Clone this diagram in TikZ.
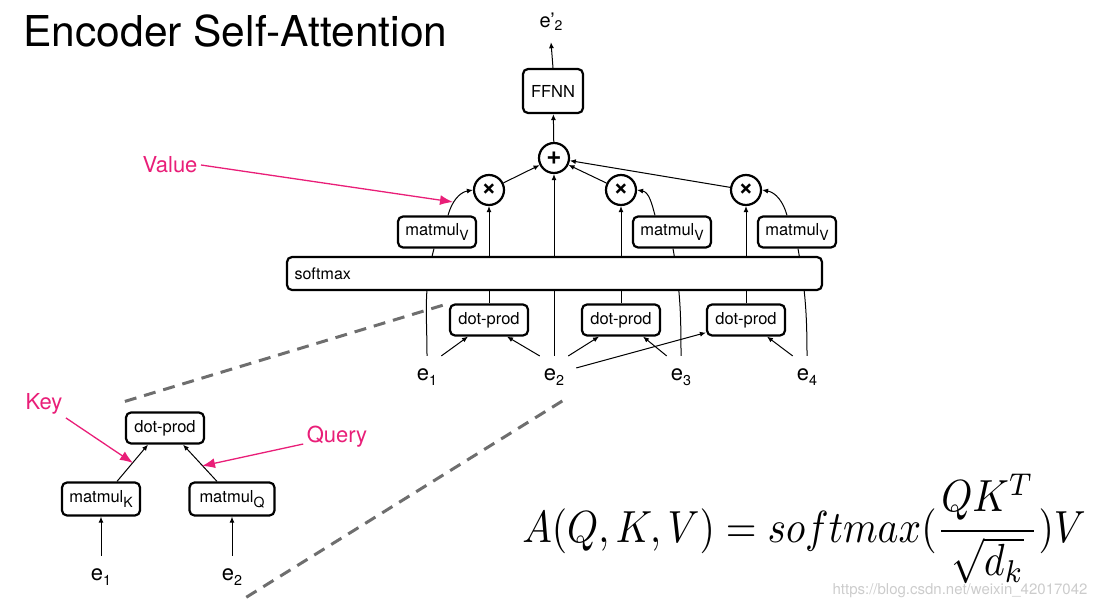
\documentclass[tikz,border=0pt]{standalone}
\usepackage{fontspec}
\setmainfont{TeX Gyre Heros}
\usepackage{graphicx}
\usepackage{tikz}
\usetikzlibrary{arrows.meta}
\pgfdeclarelayer{back}
\pgfsetlayers{back,main}
\definecolor{hintpink}{RGB}{233,30,120}
\definecolor{zoomgray}{RGB}{110,110,110}
\tikzset{opbox/.style={draw, line width=2.2pt, rounded corners=5pt, fill=white, inner sep=0pt,
      minimum width=78pt, minimum height=31pt, font=\fontsize{16.5}{18}\selectfont},
    opcirc/.style={draw, circle, line width=2.2pt, fill=white, minimum size=30pt, inner sep=0pt,
      font=\fontsize{26}{26}\selectfont\bfseries},
    emb/.style={inner xsep=4pt, inner ysep=12pt, anchor=base, font=\fontsize{22}{24}\selectfont},
    flow/.style={line width=1pt, -{Latex[length=6pt,width=5pt]}},
    hint/.style={hintpink, line width=1.3pt, -{Latex[length=13pt,width=10pt]}},
    hintlabel/.style={text=hintpink, font=\fontsize{22}{24}\selectfont},
    zoomline/.style={zoomgray, line width=3pt, dash pattern=on 12pt off 8pt}}
\newcommand{\lowsub}[1]{\raisebox{-0.23em}{\scalebox{0.65}{#1}}}
\newcommand{\mm}[1]{matmul\raisebox{-0.3em}{\scalebox{0.85}{#1}}}

\begin{document}
\begin{tikzpicture}[x=1pt,y=1pt]
    \useasboundingbox (0,0) rectangle (1105,-610);
    \node[anchor=base west, font=\fontsize{42.5}{44}\selectfont] (title) at (20,-47) {Encoder Self-Attention};

    % main encoder block
    \node[emb] (e1) at (427,-380) {e\lowsub{1}};
    \node[emb] (e2) at (554,-380) {e\lowsub{2}};
    \node[emb] (e3) at (681,-380) {e\lowsub{3}};
    \node[emb] (e4) at (807,-380) {e\lowsub{4}};
    \node[opbox] (dp1) at (489,-320) {dot-prod};
    \node[opbox] (dp2) at (621,-320) {dot-prod};
    \node[opbox] (dp3) at (746,-320) {dot-prod};
    \node[opbox, minimum width=535pt, minimum height=33pt, text width=520pt, align=left,
      font=\fontsize{16}{18}\selectfont] (soft) at (554.5,-273.5) {softmax};
    \node[opbox] (mv1) at (437,-232) {\mm{V}};
    \node[opbox] (mv2) at (672,-232) {\mm{V}};
    \node[opbox] (mv3) at (797,-232) {\mm{V}};
    \node[opcirc] (x1) at (489,-190) {×};
    \node[opcirc] (x2) at (621,-190) {×};
    \node[opcirc] (x3) at (746,-190) {×};
    \node[opcirc] (plus) at (554,-158) {+};
    \node[opbox, minimum width=60pt, minimum height=44pt] (ffnn) at (553,-91) {FFNN};
    \node[emb, inner ysep=12pt, font=\fontsize{20}{22}\selectfont] (eout) at (551,-28) {e\textquoteright\raisebox{-0.1em}{\scalebox{0.7}{2}}};

    \begin{pgfonlayer}{back}
        \draw[line width=1pt] (e1.north) to[out=90,in=-105] ([xshift=-3pt]mv1.south);
        \draw[line width=1pt] (e3.north) to[out=90,in=-80] ([xshift=1pt]mv2.south);
        \draw[line width=1pt] (e4.north) to[out=90,in=-80] ([xshift=1pt]mv3.south);
        \draw[flow] (e2.north) -- (plus.south);
    \end{pgfonlayer}
    \foreach \d/\x in {dp1/x1, dp2/x2, dp3/x3} {
        \draw[line width=1pt] (\d.north) -- (\d |- soft.south);
        \draw[flow] (\d |- soft.north) -- (\x.south);
        \draw[flow] (\x) -- (plus);
    }
    \draw[flow] ([xshift=11pt]mv1.north) to[out=75,in=190] (x1.west);
    \draw[flow] ([xshift=-17pt]mv2.north) to[out=105,in=-10] (x2.east);
    \draw[flow] ([xshift=-10pt]mv3.north) to[out=105,in=-10] (x3.east);
    \draw[flow] (plus) -- (ffnn);
    \draw[flow] (ffnn.north) -- (eout.south);
    \draw[flow] (e1.north east) -- ([xshift=-21pt]dp1.south);
    \draw[flow] (e2.north west) -- ([xshift=18pt]dp1.south);
    \draw[flow] (e2.north east) -- ([xshift=-22pt]dp2.south);
    \draw[flow] (e3.north west) -- ([xshift=22pt]dp2.south);
    \draw[flow] ([shift={(8pt,-12pt)}]e2.north east) -- ([yshift=4pt]dp3.south west);
    \draw[flow] (e4.north west) -- ([xshift=21pt]dp3.south);

    % zoomed dot-prod
    \node[emb] (le1) at (101,-580) {e\lowsub{1}};
    \node[emb] (le2) at (232,-580) {e\lowsub{2}};
    \node[opbox, minimum height=33pt] (mk) at (101,-499) {\mm{K}};
    \node[opbox, minimum width=85pt, minimum height=33pt] (mq) at (232,-499) {\mm{Q}};
    \node[opbox] (ddp) at (165,-428) {dot-prod};
    \draw[flow] (le1.north) -- (mk.south);
    \draw[flow] (le2.north) -- (mq.south);
    \draw[flow] ([xshift=16pt]mk.north) -- ([xshift=-17pt]ddp.south);
    \draw[flow] ([xshift=-15pt]mq.north) -- ([xshift=18pt]ddp.south);
    \draw[zoomline] ([yshift=10pt]ddp.north west) -- (dp1.north west);
    \draw[zoomline] (le2.south east) -- (e2.south east);

    % pink hints
    \node[hintlabel] (value) at (170,-165) {Value};
    \node[hintlabel] (key) at (44,-404) {Key};
    \node[hintlabel] (query) at (337,-437) {Query};
    \coordinate (valtip) at (453,-202);
    \coordinate (keytip) at (133,-463);
    \coordinate (querytip) at (202,-466);
    \draw[hint] (value.east) -- (valtip);
    \draw[hint] (key.south east) -- (keytip);
    \draw[hint] ([yshift=-7pt]query.west) -- (querytip);

    \node[anchor=base, xscale=3.95, yscale=4.5] (attn) at (804,-542) {$\displaystyle A(Q,K,V) = softmax(\frac{QK^T}{\sqrt{d_k}})V$};
    \node[text=black!20, font=\fontsize{15}{16}\selectfont] (mark) at (960,-591) {https://blog.csdn.net/weixin\_42017042};
\end{tikzpicture}
\end{document}
